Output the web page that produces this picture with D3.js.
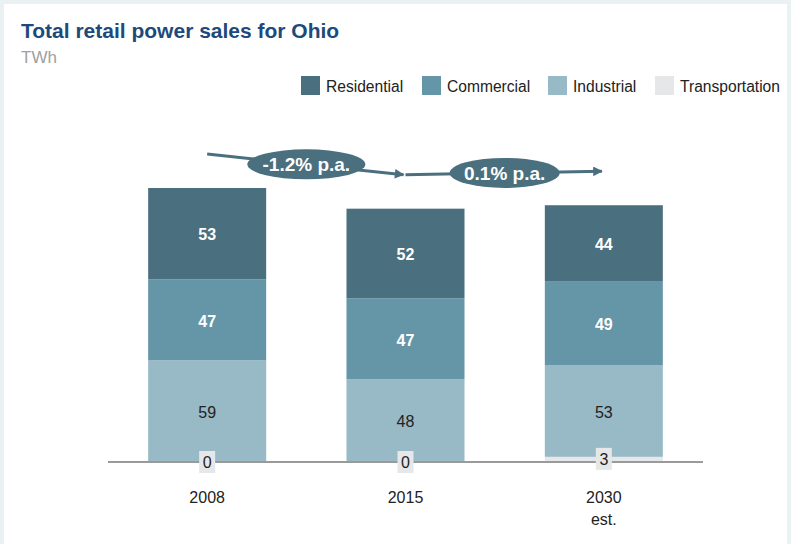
<!DOCTYPE html>
<html>
<head>
<meta charset="utf-8">
<script src="https://cdn.jsdelivr.net/npm/d3@7"></script>
<style>
  body { margin: 0; background: #fff; }
  svg { display: block; font-family: "Liberation Sans", Arial, sans-serif; }
</style>
</head>
<body>
<svg width="791" height="544"></svg>
<script>
const years = ["2008", "2015", "2030"];
const yearSub = ["", "", "est."];
const residential = [53, 52, 44];
const commercial = [47, 47, 49];
const industrial = [59, 48, 53];
const transportation = [0, 0, 3];
const growth = ["-1.2% p.a.", "0.1% p.a."];

const seriesNames = ["Residential", "Commercial", "Industrial", "Transportation"];
const seriesColors = ["#4a6f7e", "#6496a8", "#98b9c6", "#e6e7e8"];

const svg = d3.select("svg");

// frame
svg.append("path")
    .attr("d", "M2,544 V2 H789 V544")
    .attr("fill", "none")
    .attr("stroke", "#e9f1f3")
    .attr("stroke-width", 4);

svg.append("text").attr("x", 21).attr("y", 38)
    .attr("font-size", 21).attr("font-weight", "bold").attr("fill", "#1d4a7a")
    .text("Total retail power sales for Ohio");
svg.append("text").attr("x", 21).attr("y", 63)
    .attr("font-size", 17).attr("fill", "#a0a0a0")
    .text("TWh");

// legend
const legendX = [301, 422, 548, 655];
const legend = svg.append("g");
seriesNames.forEach((n, i) => {
    legend.append("rect").attr("x", legendX[i]).attr("y", 76).attr("width", 19).attr("height", 19)
        .attr("fill", seriesColors[i]);
    legend.append("text").attr("x", legendX[i] + 25).attr("y", 92)
        .attr("font-size", 15.6).attr("fill", "#222").text(n);
});

// stacked data
const table = years.map((y, i) => ({
    year: y,
    Residential: residential[i],
    Commercial: commercial[i],
    Industrial: industrial[i],
    Transportation: transportation[i]
}));
const stack = d3.stack().keys(["Transportation", "Industrial", "Commercial", "Residential"]);
const layers = stack(table);

const xScale = d3.scaleBand().domain(years).range([108, 703])
    .paddingInner(0.405).paddingOuter(0.2025);
const yScale = d3.scaleLinear().domain([0, 159]).range([462, 188]);

const colorOf = k => seriesColors[seriesNames.indexOf(k)];

const barG = svg.append("g");
layers.forEach(layer => {
    barG.selectAll(null).data(layer).enter().append("rect")
        .attr("x", d => xScale(d.data.year))
        .attr("width", xScale.bandwidth())
        .attr("y", d => yScale(d[1]))
        .attr("height", d => yScale(d[0]) - yScale(d[1]))
        .attr("fill", colorOf(layer.key));
});

// axis line
svg.append("line").attr("x1", 108).attr("x2", 703)
    .attr("y1", 462).attr("y2", 462)
    .attr("stroke", "#9a9a9a").attr("stroke-width", 2);

// value labels
layers.forEach(layer => {
    const dark = layer.key === "Residential" || layer.key === "Commercial";
    layer.forEach(d => {
        const v = d[1] - d[0];
        const cx = xScale(d.data.year) + xScale.bandwidth() / 2;
        let cy = (yScale(d[0]) + yScale(d[1])) / 2 + 1;
        if (layer.key === "Transportation") {
            cy = v > 0 ? yScale(d[1]) + 2 : yScale(0);
            svg.append("rect").attr("x", cx - 8).attr("y", cy - 11)
                .attr("width", 16).attr("height", 22).attr("fill", "#e6e7e8");
        }
        svg.append("text").attr("x", cx).attr("y", cy).attr("dy", "0.36em")
            .attr("text-anchor", "middle").attr("font-size", 16)
            .attr("font-weight", dark ? "bold" : "normal")
            .attr("fill", dark ? "#fff" : "#222")
            .text(v);
    });
});

// x labels
const xAxis = d3.axisBottom(xScale).tickSize(0).tickPadding(0);
const xAxisG = svg.append("g").attr("transform", "translate(0,462)").call(xAxis);
xAxisG.select(".domain").remove();
xAxisG.selectAll(".tick text").remove();
xAxisG.selectAll(".tick").each(function (y, i) {
    const t = d3.select(this).append("text")
        .attr("text-anchor", "middle").attr("font-size", 16).attr("fill", "#222")
        .style("font-family", "Liberation Sans, Arial, sans-serif");
    t.append("tspan").attr("x", 0).attr("y", 41).text(y);
    if (yearSub[i]) t.append("tspan").attr("x", 0).attr("y", 63).text(yearSub[i]);
});

// growth arrows
svg.append("defs").append("marker")
    .attr("id", "arr").attr("viewBox", "0 0 10 10").attr("refX", 9).attr("refY", 5)
    .attr("markerWidth", 4).attr("markerHeight", 3.2).attr("orient", "auto")
    .attr("markerUnits", "strokeWidth")
    .append("path").attr("d", "M0,0 L10,5 L0,10 Z").attr("fill", "#4a6f7e");

const totals = table.map(d => d.Residential + d.Commercial + d.Industrial + d.Transportation);
const ellW = [118, 110];
growth.forEach((g, i) => {
    const x1 = xScale(years[i]) + xScale.bandwidth() / 2;
    const x2 = xScale(years[i + 1]) + xScale.bandwidth() / 2;
    const y1 = yScale(totals[i]) - 34;
    const y2 = yScale(totals[i + 1]) - 34;
    svg.append("line").attr("x1", x1).attr("y1", y1).attr("x2", x2 - 2).attr("y2", y2)
        .attr("stroke", "#4a6f7e").attr("stroke-width", 3).attr("marker-end", "url(#arr)");
    const mx = (x1 + x2) / 2, my = (y1 + y2) / 2;
    svg.append("ellipse").attr("cx", mx).attr("cy", my).attr("rx", ellW[i] / 2).attr("ry", 15)
        .attr("fill", "#4a6f7e");
    svg.append("text").attr("x", mx).attr("y", my).attr("dy", "0.36em")
        .attr("text-anchor", "middle").attr("font-size", 19).attr("font-weight", "bold")
        .attr("fill", "#fff").text(g);
});
</script>
</body>
</html>
